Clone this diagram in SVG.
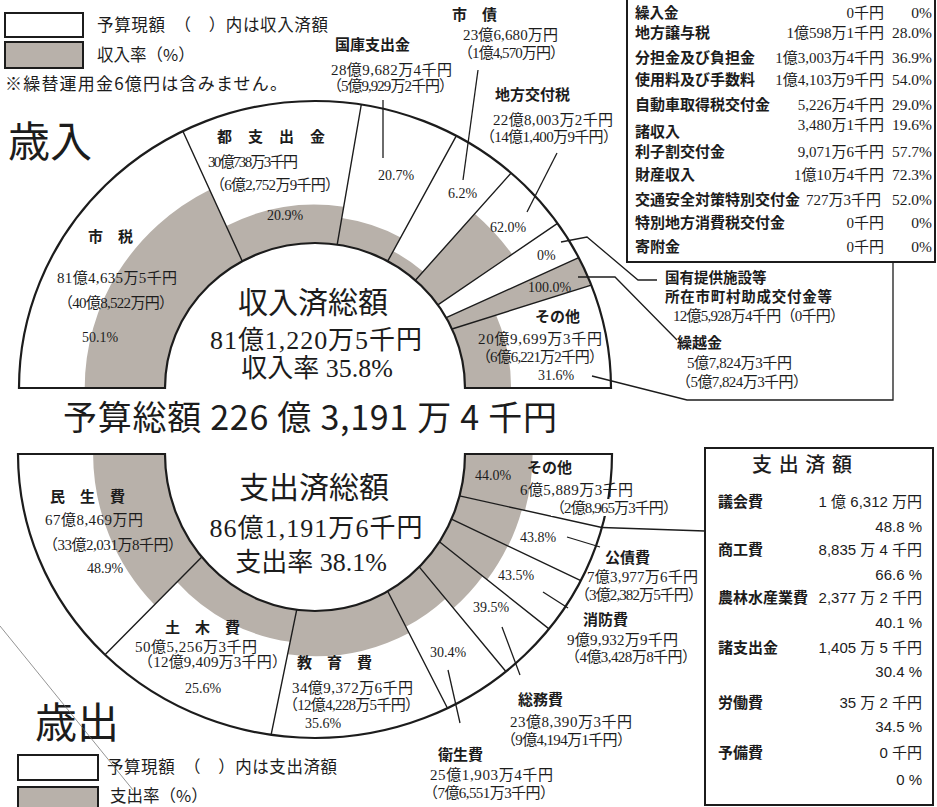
<svg xmlns="http://www.w3.org/2000/svg" width="937" height="807" viewBox="0 0 937 807">
<defs><style>
text{fill:#1c1c1c}
.lb{font-family:"Noto Sans CJK JP","Noto Sans CJK SC",sans-serif;font-weight:700;font-size:15px}
.am{font-family:"Liberation Serif","Noto Sans CJK JP",serif;font-size:15px}
.pc{font-family:"Liberation Serif","Noto Sans CJK JP",serif;font-size:14px}
.lg{font-family:"Noto Sans CJK JP",sans-serif;font-size:16.5px}
.hd{font-family:"Noto Sans CJK JP",sans-serif;font-size:42px}
.ttl{font-family:"Noto Sans CJK JP",sans-serif;font-size:30px;text-anchor:middle}
.sub{font-family:"Liberation Serif","Noto Sans CJK JP",serif;font-size:26px;text-anchor:middle}
.tot{font-family:"Noto Sans CJK JP",sans-serif;font-size:34px}
.ta{font-family:"Liberation Serif","Noto Sans CJK JP",serif;font-size:15px;text-anchor:end}
.tp{font-family:"Liberation Serif","Noto Sans CJK JP",serif;font-size:15.5px;text-anchor:end}
.tv{font-family:"Liberation Sans","Noto Sans CJK JP",sans-serif;font-size:15px;text-anchor:end}
.ring{fill:#fff;stroke:none}
.edge{fill:none;stroke:#1c1c1c;stroke-width:2.2;stroke-linejoin:miter}
.g{fill:#b8b1aa}
.div{stroke:#1c1c1c;stroke-width:1.4;fill:none}
.ln{stroke:#1c1c1c;stroke-width:1.3;fill:none}
.box{fill:#fff;stroke:#1c1c1c;stroke-width:2}
.gbox{fill:#b8b1aa;stroke:#1c1c1c;stroke-width:2}
</style></defs>
<rect x="0" y="0" width="937" height="807" fill="#fff"/>

<g id="legend-revenue">
<rect class="box" x="5" y="13" width="78" height="24"/>
<rect class="gbox" x="5" y="42" width="78" height="26"/>
<text class="lg" x="97" y="31" textLength="231">予算現額　（　）内は収入済額</text>
<text class="lg" x="97" y="61">収入率（%）</text>
<text class="lg" x="5" y="90" textLength="282" style="font-size:17px">※繰替運用金6億円は含みません。</text>
<text class="hd" x="8" y="157">歳入</text>
</g>

<g id="revenue-chart">
<path class="ring" d="M19,388 A296,287 0 0 1 611,388 L465,388 A150,145 0 0 0 165,388 Z"/>
<g id="rev-shizei"><path class="g" d="M165,388 A150,145 0 0 1 242.3,261.2 L209.6,189.7 A230.3,223.1 0 0 0 84.7,388 Z"/></g>
<g id="rev-toshishutsu"><path class="g" d="M242.3,261.2 A150,145 0 0 1 337.2,244.6 L343.7,206.8 A189.4,183.3 0 0 0 226.3,226.1 Z"/></g>
<g id="rev-kokko"><path class="g" d="M337.2,244.6 A150,145 0 0 1 387.7,261.2 L400.7,237.4 A177.7,172 0 0 0 341.8,218 Z"/></g>
<g id="rev-shisai"><path class="g" d="M387.7,261.2 A150,145 0 0 1 415.4,280.2 L423.1,271.6 A161.7,156.4 0 0 0 393.2,251.2 Z"/></g>
<g id="rev-chihokofu"><path class="g" d="M415.4,280.2 A150,145 0 0 1 437.9,304.8 L512.1,254.3 A240.5,233 0 0 0 474.7,213.7 Z"/></g>
<g id="rev-kurikoshi"><path class="g" d="M446.2,317.7 A150,145 0 0 1 452,329 L591.3,285.1 A296,287 0 0 0 578.7,257.7 Z"/></g>
<g id="rev-sonota"><path class="g" d="M452,329 A150,145 0 0 1 465,388 L511.1,388 A196.1,189.9 0 0 0 496,315.1 Z"/></g>
<path class="div" d="M242.3,261.2L182.9,131.2 M337.2,244.6L361.3,104.5 M387.7,261.2L456.3,135.8 M415.4,280.2L511.1,173 M437.9,304.8L557.5,223.4 M446.2,317.7L578.7,257.7 M452,329L591.3,285.1"/>
<path class="edge" d="M19,388 A296,287 0 0 1 611,388 L465,388 A150,145 0 0 0 165,388 Z"/>
</g>

<g id="rev-labels">
<g id="lbl-shizei">
<text class="lb" x="88" y="242">市　税</text>
<text class="am" x="57" y="283" textLength="120">81億4,635万5千円</text>
<text class="am" x="58" y="308" textLength="116">（40億8,522万円）</text>
<text class="pc" x="82" y="342">50.1%</text>
</g>
<g id="lbl-toshishutsu">
<text class="lb" x="217" y="142" textLength="108">都　支　出　金</text>
<text class="am" x="208" y="167" textLength="90">30億738万3千円</text>
<text class="am" x="210" y="190" textLength="130">（6億2,752万9千円）</text>
<text class="pc" x="267" y="220">20.9%</text>
</g>
<g id="lbl-kokko">
<text class="lb" x="335" y="50">国庫支出金</text>
<text class="am" x="331" y="75" textLength="121">28億9,682万4千円</text>
<text class="am" x="327" y="91" textLength="127">（5億9,929万2千円）</text>
<text class="pc" x="378" y="180">20.7%</text>
</g>
<g id="lbl-shisai">
<text class="lb" x="452" y="20">市　債</text>
<text class="am" x="463" y="40" textLength="95">23億6,680万円</text>
<text class="am" x="458" y="58" textLength="107">（1億4,570万円）</text>
<text class="pc" x="448" y="198">6.2%</text>
</g>
<g id="lbl-chihokofu">
<text class="lb" x="495" y="100">地方交付税</text>
<text class="am" x="493" y="125" textLength="120">22億8,003万2千円</text>
<text class="am" x="480" y="142" textLength="138">（14億1,400万9千円）</text>
<text class="pc" x="490" y="232">62.0%</text>
</g>
<g id="lbl-kokuyu">
<text class="pc" x="537" y="260">0%</text>
<text class="lb" x="665" y="283" style="font-size:14.5px">国有提供施設等</text>
<text class="lb" x="665" y="302" style="font-size:14.5px" textLength="167">所在市町村助成交付金等</text>
<text class="am" x="673" y="321" textLength="172">12億5,928万4千円（0千円）</text>
</g>
<g id="lbl-kurikoshi">
<text class="pc" x="528" y="292">100.0%</text>
<text class="lb" x="677" y="348">繰越金</text>
<text class="am" x="687" y="368" textLength="105">5億7,824万3千円</text>
<text class="am" x="676" y="387" textLength="132">（5億7,824万3千円）</text>
</g>
<g id="lbl-sonota-rev">
<text class="lb" x="535" y="322">その他</text>
<text class="am" x="478" y="344" textLength="124">20億9,699万3千円</text>
<text class="am" x="476" y="362" textLength="128">（6億6,221万2千円）</text>
<text class="pc" x="538" y="380">31.6%</text>
</g>
<g id="rev-center">
<text class="ttl" x="313" y="313">収入済総額</text>
<text class="sub" x="316" y="349" textLength="212">81億1,220万5千円</text>
<text class="sub" x="317" y="377">収入率 35.8%</text>
</g>
</g>

<g id="rev-table">
<rect class="box" x="627" y="-4" width="308" height="266"/>
<g class="lb">
<text x="635" y="18" style="font-size:14.5px">繰入金</text>
<text x="635" y="38">地方譲与税</text>
<text x="635" y="63">分担金及び負担金</text>
<text x="635" y="85">使用料及び手数料</text>
<text x="635" y="110">自動車取得税交付金</text>
<text x="635" y="137">諸収入</text>
<text x="635" y="157">利子割交付金</text>
<text x="635" y="180">財産収入</text>
<text x="635" y="205">交通安全対策特別交付金</text>
<text x="635" y="228">特別地方消費税交付金</text>
<text x="635" y="252">寄附金</text>
</g>
<text class="ta" x="884" y="18">0千円</text>
<text class="ta" x="884" y="38">1億598万1千円</text>
<text class="ta" x="884" y="63">1億3,003万4千円</text>
<text class="ta" x="884" y="85">1億4,103万9千円</text>
<text class="ta" x="884" y="110">5,226万4千円</text>
<text class="ta" x="884" y="130">3,480万1千円</text>
<text class="ta" x="884" y="157">9,071万6千円</text>
<text class="ta" x="884" y="180">1億10万4千円</text>
<text class="ta" x="881" y="205">727万3千円</text>
<text class="ta" x="884" y="228">0千円</text>
<text class="ta" x="884" y="252">0千円</text>
<text class="tp" x="932" y="18">0%</text>
<text class="tp" x="932" y="38">28.0%</text>
<text class="tp" x="932" y="63">36.9%</text>
<text class="tp" x="932" y="85">54.0%</text>
<text class="tp" x="932" y="110">29.0%</text>
<text class="tp" x="932" y="130">19.6%</text>
<text class="tp" x="932" y="157">57.7%</text>
<text class="tp" x="932" y="180">72.3%</text>
<text class="tp" x="932" y="205">52.0%</text>
<text class="tp" x="932" y="228">0%</text>
<text class="tp" x="932" y="252">0%</text>
</g>

<g id="total">
<text class="tot" x="63" y="430" textLength="494">予算総額 226 億 3,191 万 4 千円</text>
</g>

<g id="expenditure-chart">
<path class="ring" d="M18,454 A297,284 0 0 0 612,454 L465,454 A150,157 0 0 1 165,454 Z"/>
<g id="exp-minsei"><path class="g" d="M165,454 A150,157 0 0 0 201.8,557 L154.5,604.8 A221.9,219.1 0 0 1 93.1,454 Z"/></g>
<g id="exp-doboku"><path class="g" d="M201.8,557 A150,157 0 0 0 296.7,609.8 L290.1,641.8 A187.6,189.5 0 0 1 177,582 Z"/></g>
<g id="exp-kyoiku"><path class="g" d="M296.7,609.8 A150,157 0 0 0 387.7,591.3 L409,632.9 A202.3,202.2 0 0 1 287.6,654.3 Z"/></g>
<g id="exp-eisei"><path class="g" d="M387.7,591.3 A150,157 0 0 0 419.2,566.9 L445.6,598.7 A194.7,195.6 0 0 1 405.9,626.8 Z"/></g>
<g id="exp-somu"><path class="g" d="M419.2,566.9 A150,157 0 0 0 439.4,541.8 L482.7,576.2 A208.1,207.2 0 0 1 453.4,608.2 Z"/></g>
<g id="exp-shobo"><path class="g" d="M439.4,541.8 A150,157 0 0 0 451.5,519.1 L507.7,545.9 A213.9,212.2 0 0 1 487.1,579.7 Z"/></g>
<g id="exp-kosai"><path class="g" d="M451.5,519.1 A150,157 0 0 0 459.5,495.9 L521.9,509.7 A214.4,212.6 0 0 1 508.1,546.1 Z"/></g>
<g id="exp-sonota"><path class="g" d="M459.5,495.9 A150,157 0 0 0 465,454 L532.6,454 A217.6,215.4 0 0 1 525,510.4 Z"/></g>
<path class="div" d="M201.8,557L105,654.8 M296.7,609.8L271.1,734.9 M387.7,591.3L447.5,708.2 M419.2,566.9L505.9,671.5 M439.4,541.8L549,628.9 M451.5,519.1L580.8,580.7 M459.5,495.9L601.9,527.5"/>
<path class="edge" d="M18,454 A297,284 0 0 0 612,454 L465,454 A150,157 0 0 1 165,454 Z"/>
</g>

<g id="exp-labels">
<g id="exp-center">
<text class="ttl" x="314" y="498">支出済総額</text>
<text class="sub" x="316" y="537" textLength="213">86億1,191万6千円</text>
<text class="sub" x="311" y="571">支出率 38.1%</text>
</g>
<g id="lbl-minsei">
<text class="lb" x="50" y="502">民　生　費</text>
<text class="am" x="45" y="525" textLength="98">67億8,469万円</text>
<text class="am" x="43" y="550" textLength="140">（33億2,031万8千円）</text>
<text class="pc" x="87" y="573">48.9%</text>
</g>
<g id="lbl-doboku">
<text class="lb" x="165" y="633">土　木　費</text>
<text class="am" x="135" y="652" textLength="122">50億5,256万3千円</text>
<text class="am" x="138" y="667" textLength="149">（12億9,409万3千円）</text>
<text class="pc" x="185" y="693">25.6%</text>
</g>
<g id="lbl-kyoiku">
<text class="lb" x="297" y="668">教　育　費</text>
<text class="am" x="292" y="693" textLength="121">34億9,372万6千円</text>
<text class="am" x="283" y="710" textLength="137">（12億4,228万5千円）</text>
<text class="pc" x="305" y="728">35.6%</text>
</g>
<g id="lbl-eisei">
<text class="pc" x="430" y="657">30.4%</text>
<text class="lb" x="438" y="760">衛生費</text>
<text class="am" x="430" y="780" textLength="123">25億1,903万4千円</text>
<text class="am" x="423" y="798" textLength="132">（7億6,551万3千円）</text>
</g>
<g id="lbl-somu">
<text class="pc" x="473" y="612">39.5%</text>
<text class="lb" x="518" y="705">総務費</text>
<text class="am" x="510" y="727" textLength="122">23億8,390万3千円</text>
<text class="am" x="501" y="745" textLength="131">（9億4,194万1千円）</text>
</g>
<g id="lbl-shobo">
<text class="pc" x="498" y="580">43.5%</text>
<text class="lb" x="583" y="625">消防費</text>
<text class="am" x="567" y="645" textLength="111">9億9,932万9千円</text>
<text class="am" x="565" y="662" textLength="132">（4億3,428万8千円）</text>
</g>
<g id="lbl-kosai">
<text class="pc" x="520" y="542">43.8%</text>
<text class="lb" x="605" y="563">公債費</text>
<text class="am" x="587" y="582" textLength="111">7億3,977万6千円</text>
<text class="am" x="575" y="600" textLength="128">（3億2,382万5千円）</text>
</g>
<g id="lbl-sonota-exp">
<text class="pc" x="475" y="480">44.0%</text>
<text class="lb" x="527" y="473">その他</text>
<text class="am" x="520" y="495" textLength="113">6億5,889万3千円</text>
<rect x="551" y="499" width="129" height="17" fill="#fff"/>
<text class="am" x="550" y="513" textLength="128">（2億8,965万3千円）</text>
</g>
</g>

<g id="exp-table">
<rect class="box" x="705" y="448" width="228" height="357"/>
<text x="802" y="472" text-anchor="middle" textLength="100" style="font-family:'Noto Sans CJK JP',sans-serif;font-size:20px;font-weight:500">支 出 済 額</text>
<g class="lb">
<text x="718" y="507">議会費</text>
<text x="718" y="555">商工費</text>
<text x="718" y="603">農林水産業費</text>
<text x="718" y="653">諸支出金</text>
<text x="718" y="708">労働費</text>
<text x="718" y="758">予備費</text>
</g>
<text class="tv" x="922" y="507">1 億 6,312 万円</text>
<text class="tv" x="922" y="532">48.8 %</text>
<text class="tv" x="922" y="555">8,835 万 4 千円</text>
<text class="tv" x="922" y="580">66.6 %</text>
<text class="tv" x="922" y="603">2,377 万 2 千円</text>
<text class="tv" x="922" y="628">40.1 %</text>
<text class="tv" x="922" y="653">1,405 万 5 千円</text>
<text class="tv" x="922" y="677">30.4 %</text>
<text class="tv" x="922" y="708">35 万 2 千円</text>
<text class="tv" x="922" y="732">34.5 %</text>
<text class="tv" x="922" y="758">0 千円</text>
<text class="tv" x="922" y="785">0 %</text>
</g>

<g id="legend-expenditure">
<text class="hd" x="35" y="738">歳出</text>
<rect class="box" x="18" y="755" width="80" height="25"/>
<rect class="gbox" x="18" y="787" width="80" height="26"/>
<text class="lg" x="107" y="773" textLength="230">予算現額　（　）内は支出済額</text>
<text class="lg" x="110" y="802">支出率（%）</text>
</g>

<g id="connectors" class="ln">
<path d="M383,100V158"/>
<path d="M478,70L463,180"/>
<path d="M557,153L527,212"/>
<path d="M561,242L587,237L638,280L657,280"/>
<path d="M578,277L615,277L677,340"/>
<path d="M592,376L687,400L893,400L893,262"/>
<path d="M601.9,527.5L705,531"/>
<path d="M567,537L600,547"/>
<path d="M543,592L568,608"/>
<path d="M502,627L520,675"/>
<path d="M448,670L460,723"/>
<path d="M0,626L133,790" style="stroke:#666;stroke-width:0.7"/>
</g>
</svg>
